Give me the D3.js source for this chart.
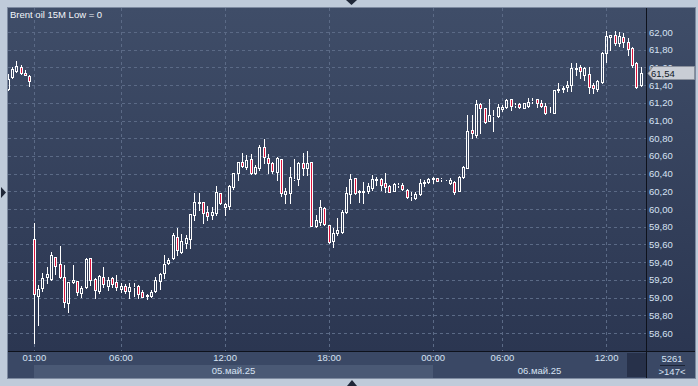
<!DOCTYPE html>
<html>
<head>
<meta charset="utf-8">
<script src="https://cdn.jsdelivr.net/npm/d3@7"></script>
<style>
body { margin: 0; background: #bfcbda; }
svg { display: block; font-family: "Liberation Sans", Arial, sans-serif; }
</style>
</head>
<body>
<svg width="698" height="386"></svg>
<script>
// 15 minute bars, oldest first (147 visible)
var opens = [61.36,61.495,61.563,61.601,61.537,61.503,59.658,59.017,59.11,59.235,
	59.206,59.454,59.375,59.232,58.941,59.18,59.183,59.047,59.119,59.443,
	59.21,59.077,59.228,59.133,59.217,59.175,59.096,59.13,59.077,59.115,
	59.13,59.059,59.029,59.017,59.077,59.19,59.274,59.386,59.443,59.687,
	59.518,59.62,59.658,59.932,60.07,60.075,59.963,59.932,59.951,60.176,
	60.02,60.034,60.245,60.41,60.535,60.478,60.562,60.41,60.46,60.697,
	60.573,60.523,60.422,60.562,60.17,60.185,60.345,60.336,60.516,60.46,
	60.528,59.808,59.857,60.008,59.819,59.642,59.725,59.744,59.97,60.17,
	60.346,60.2,60.19,60.207,60.241,60.33,60.335,60.29,60.26,60.207,
	60.27,60.271,60.215,60.15,60.13,60.17,60.3,60.309,60.34,60.346,
	60.335,60.322,60.298,60.309,60.207,60.358,60.46,60.893,60.836,61.183,
	61.138,60.998,61.05,61.05,61.13,61.149,61.24,61.172,61.183,61.145,
	61.167,61.22,61.24,61.2,61.164,61.088,61.088,61.35,61.36,61.375,
	61.401,61.585,61.608,61.514,61.525,61.401,61.356,61.432,61.759,61.947,
	61.966,61.872,61.94,61.89,61.816,61.646,61.401];
var highs = [61.52,61.608,61.669,61.627,61.567,61.518,59.842,59.138,59.274,59.351,
	59.514,59.46,59.582,59.364,59.175,59.37,59.19,59.133,59.443,59.446,
	59.224,59.254,59.351,59.228,59.228,59.257,59.16,59.15,59.16,59.16,
	59.14,59.085,59.04,59.085,59.228,59.274,59.477,59.443,59.725,59.782,
	59.717,59.706,59.944,60.176,60.176,60.082,60.034,60.026,60.26,60.184,
	60.072,60.271,60.41,60.535,60.63,60.61,60.618,60.497,60.723,60.791,
	60.622,60.535,60.584,60.562,60.233,60.478,60.562,60.535,60.63,60.66,
	60.535,59.93,60.102,60.019,59.819,59.79,59.895,59.989,60.252,60.396,
	60.354,60.215,60.309,60.298,60.39,60.36,60.346,60.403,60.271,60.29,
	60.298,60.298,60.222,60.196,60.196,60.335,60.328,60.356,60.365,60.35,
	60.356,60.325,60.346,60.32,60.37,60.485,61.062,61.062,61.232,61.194,
	61.145,61.24,61.119,61.186,61.175,61.24,61.243,61.194,61.202,61.2,
	61.251,61.251,61.243,61.228,61.2,61.149,61.345,61.42,61.39,61.447,
	61.646,61.646,61.627,61.608,61.608,61.42,61.458,61.777,62.011,61.966,
	62.011,62.004,61.985,61.929,61.834,61.664,61.608];
var lows = [61.35,61.484,61.551,61.525,61.51,61.393,58.489,58.689,59.077,59.167,
	59.198,59.27,59.224,58.896,58.84,59.17,59.032,59.01,59.104,59.141,
	58.99,59.047,59.115,59.085,59.115,59.085,59.066,59.055,58.99,59.02,
	58.99,59.002,58.985,59.01,59.062,59.1,59.217,59.379,59.435,59.48,
	59.5,59.555,59.555,59.876,59.995,59.845,59.876,59.887,59.932,60.053,
	59.932,59.996,60.222,60.328,60.478,60.452,60.392,60.392,60.44,60.523,
	60.403,60.41,60.328,60.147,60.065,60.065,60.328,60.271,60.384,60.384,
	59.808,59.793,59.819,59.819,59.612,59.574,59.706,59.732,59.958,60.064,
	60.166,60.083,60.071,60.177,60.215,60.27,60.215,60.196,60.19,60.2,
	60.245,60.215,60.13,60.102,60.109,60.158,60.26,60.298,60.298,60.315,
	60.32,60.315,60.279,60.166,60.2,60.346,60.46,60.799,60.817,60.862,
	60.968,60.998,60.884,61.043,61.111,61.138,61.119,61.149,61.138,61.14,
	61.156,61.2,61.156,61.156,61.074,61.081,61.085,61.326,61.326,61.337,
	61.337,61.514,61.477,61.458,61.307,61.307,61.333,61.42,61.658,61.797,
	61.853,61.842,61.834,61.74,61.608,61.364,61.39];
var closes = [61.47,61.579,61.616,61.54,61.511,61.443,59.036,59.096,59.217,59.262,
	59.477,59.359,59.235,58.953,59.172,59.2,59.059,59.11,59.435,59.198,
	59.085,59.247,59.149,59.198,59.149,59.122,59.13,59.077,59.118,59.118,
	59.04,59.01,59.02,59.059,59.198,59.262,59.375,59.424,59.706,59.537,
	59.639,59.677,59.944,60.082,60.078,59.951,59.925,59.963,60.189,60.064,
	60.053,60.26,60.403,60.528,60.49,60.554,60.403,60.471,60.704,60.584,
	60.516,60.433,60.573,60.177,60.207,60.365,60.34,60.523,60.46,60.516,
	59.808,59.876,60.019,59.827,59.63,59.732,59.763,59.97,60.177,60.336,
	60.177,60.196,60.2,60.26,60.335,60.336,60.271,60.252,60.196,60.279,
	60.274,60.222,60.139,60.147,60.17,60.29,60.302,60.339,60.35,60.32,
	60.338,60.318,60.328,60.196,60.365,60.471,60.881,60.862,61.183,61.145,
	60.98,61.062,61.055,61.149,61.149,61.232,61.164,61.175,61.149,61.194,
	61.213,61.224,61.2,61.167,61.081,61.09,61.345,61.356,61.364,61.401,
	61.59,61.59,61.563,61.59,61.382,61.371,61.45,61.759,61.955,61.966,
	61.872,61.955,61.89,61.804,61.627,61.382,61.54];

var timeTicks = [6, 26, 50, 74, 98, 114, 138];
var timeLabels = ["01:00", "06:00", "12:00", "18:00", "00:00", "06:00", "12:00"];
var priceTicks = [58.6, 58.8, 59.0, 59.2, 59.4, 59.6, 59.8, 60.0, 60.2, 60.4,
	60.6, 60.8, 61.0, 61.2, 61.4, 61.6, 61.8, 62.0];
var dayLabels = ["05.май.25", "06.май.25"];
var dayStart = [6, 98];
var lastPrice = 61.54;
var title = "Brent oil 15M Low = 0";
var barTotal = "5261", barVisible = ">147<";

var svg = d3.select("svg");
var plot = {left: 8, top: 8, right: 646, bottom: 351};
var labelColor = "#d6e2f3";

var x = d3.scaleBand()
	.domain(d3.range(opens.length))
	.range([6.13, 643.4]);
var y = d3.scaleLinear()
	.domain([58.6, 62.0])
	.range([333, 32]);
var col = i => Math.floor(x(i) + x.bandwidth() / 2);
var fmt = v => d3.format(".2f")(v).replace(".", ",");

var defs = svg.append("defs");
var grad = defs.append("linearGradient").attr("id", "bg").attr("x1", 0).attr("y1", 0).attr("x2", 0).attr("y2", 1);
grad.append("stop").attr("offset", "0%").attr("stop-color", "#3f4d68");
grad.append("stop").attr("offset", "100%").attr("stop-color", "#2b3651");
defs.append("clipPath").attr("id", "clip")
	.append("rect").attr("x", plot.left).attr("y", plot.top)
	.attr("width", plot.right - plot.left).attr("height", plot.bottom - plot.top);

// frame
svg.append("rect").attr("x", 7.5).attr("y", 7.5).attr("width", 688).attr("height", 371)
	.attr("fill", "#33405b").attr("stroke", "#7d8aa0");
svg.append("rect").attr("x", plot.left).attr("y", plot.top)
	.attr("width", plot.right - plot.left).attr("height", plot.bottom - plot.top)
	.attr("fill", "url(#bg)");
svg.append("rect").attr("x", plot.right + 1).attr("y", plot.top)
	.attr("width", 48).attr("height", plot.bottom - plot.top)
	.attr("fill", "url(#bg)");

// bottom axis band
svg.append("rect").attr("x", plot.left).attr("y", 352).attr("width", 687).attr("height", 26)
	.attr("fill", "#3a4865");
svg.append("rect").attr("x", col(dayStart[0])).attr("y", 365)
	.attr("width", col(dayStart[1]) - col(dayStart[0])).attr("height", 13)
	.attr("fill", "#4a5975");
svg.append("rect").attr("x", 627).attr("y", 353).attr("width", 19).attr("height", 24)
	.attr("fill", "#27314a");

// grid
var grid = svg.append("g").attr("stroke", "#5b6a86").attr("stroke-dasharray", "3,3")
	.attr("shape-rendering", "crispEdges");
grid.selectAll(".h").data(priceTicks).enter().append("line")
	.attr("x1", plot.left).attr("x2", plot.right)
	.attr("y1", d => Math.round(y(d)) + 0.5).attr("y2", d => Math.round(y(d)) + 0.5);
grid.selectAll(".v").data(timeTicks).enter().append("line")
	.attr("y1", plot.top).attr("y2", plot.bottom)
	.attr("x1", d => col(d) + 0.5).attr("x2", d => col(d) + 0.5);

// candles
var bars = d3.range(opens.length).map(i => ({
	i: i, o: opens[i], h: highs[i], l: lows[i], c: closes[i]
}));
var cg = svg.append("g").attr("clip-path", "url(#clip)").attr("shape-rendering", "crispEdges");
cg.selectAll("path").data(bars).enter().append("path")
	.attr("stroke", "#ffffff").attr("fill", "none")
	.attr("d", function(d) {
		var cx = col(d.i) + 0.5;
		var top = Math.round(y(Math.max(d.o, d.c)));
		var bot = Math.round(y(Math.min(d.o, d.c)));
		return "M" + cx + "," + Math.round(y(d.h)) + "V" + top +
			"M" + cx + "," + (bot + 1) + "V" + (Math.round(y(d.l)) + 1);
	});
cg.selectAll("rect").data(bars).enter().append("rect")
	.attr("x", d => col(d.i) - 0.5)
	.attr("width", 2)
	.attr("y", d => Math.round(y(Math.max(d.o, d.c))) + 0.5)
	.attr("height", d => Math.round(y(Math.min(d.o, d.c))) - Math.round(y(Math.max(d.o, d.c))))
	.attr("fill", d => d.c < d.o ? "#dc143c" : "none")
	.attr("stroke", "#ffffff");

// borders
svg.append("line").attr("x1", plot.right + 0.5).attr("x2", plot.right + 0.5)
	.attr("y1", plot.top).attr("y2", 378).attr("stroke", "#0e121c");
svg.append("line").attr("x1", plot.left).attr("x2", 695)
	.attr("y1", plot.bottom + 0.5).attr("y2", plot.bottom + 0.5).attr("stroke", "#0e121c");

// price axis
var yAxis = svg.append("g").attr("transform", "translate(" + (plot.right + 1) + ",0)")
	.call(d3.axisRight(y).tickValues(priceTicks).tickSize(0).tickPadding(2).tickFormat(fmt));
yAxis.select(".domain").remove();
yAxis.selectAll("text").attr("fill", labelColor).attr("font-size", "9.5px")
	.attr("font-family", "'Liberation Sans', Arial, sans-serif");

// time axis
var xAxis = svg.append("g").attr("transform", "translate(0," + 353 + ")")
	.call(d3.axisBottom(x).tickValues(timeTicks).tickSize(0).tickPadding(1)
		.tickFormat((d, i) => timeLabels[i]));
xAxis.select(".domain").remove();
xAxis.selectAll("text").attr("fill", labelColor).attr("font-size", "9.5px")
	.attr("font-family", "'Liberation Sans', Arial, sans-serif");

// day labels
var dayEnd = [col(dayStart[1]), plot.right];
svg.selectAll(".day").data(dayLabels).enter().append("text")
	.attr("x", (d, i) => (col(dayStart[i]) + dayEnd[i]) / 2)
	.attr("y", 374).attr("text-anchor", "middle")
	.attr("fill", labelColor).attr("font-size", "9.5px").text(d => d);

// last price marker
var ly = Math.round(y(lastPrice));
svg.append("path")
	.attr("d", "M648," + (ly + 0.5) + "L653," + (ly - 6.5) + "H694.5V" + (ly + 6.5) + "H653Z")
	.attr("fill", "#c9cdd5").attr("stroke", "#8a909c");
svg.append("text").attr("x", 651).attr("y", ly + 4).attr("fill", "#111827")
	.attr("font-size", "9.5px").text(fmt(lastPrice));

// bar counter
svg.append("text").attr("x", 672).attr("y", 362).attr("text-anchor", "middle")
	.attr("fill", labelColor).attr("font-size", "9.5px").text(barTotal);
svg.append("line").attr("x1", 660).attr("x2", 685).attr("y1", 365.5).attr("y2", 365.5)
	.attr("stroke", "#1c2436");
svg.append("text").attr("x", 672).attr("y", 375).attr("text-anchor", "middle")
	.attr("fill", labelColor).attr("font-size", "9.5px").text(barVisible);

// title
svg.append("text").attr("x", 10).attr("y", 18).attr("fill", "#f2f5fa")
	.attr("font-size", "9.5px").text(title);

// scroll arrows
svg.append("path").attr("d", "M346,0H357L351.5,5Z").attr("fill", "#1f2738");
svg.append("path").attr("d", "M347,386H357L352,380Z").attr("fill", "#1f2738");
svg.append("path").attr("d", "M1,187V198L6,192.5Z").attr("fill", "#1f2738");
</script>
</body>
</html>
